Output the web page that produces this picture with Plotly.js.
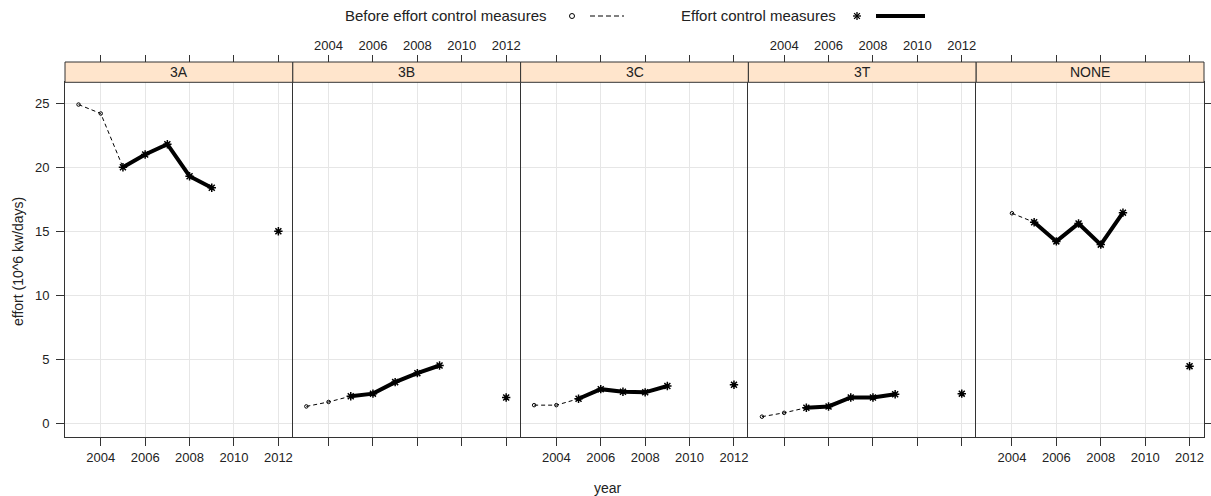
<!DOCTYPE html>
<html>
<head>
<meta charset="utf-8">
<script src="https://cdn.plot.ly/plotly-3.0.1.min.js"></script>
<style>html,body{margin:0;padding:0;background:#fff;}#chart{width:1211px;height:496px;}</style>
</head>
<body>
<div id="chart"></div>
<script>
// ---- data ----
const panels = ['3A', '3B', '3C', '3T', 'NONE'];
const beforeYears = [2003, 2004];
const effortYears = [2005, 2006, 2007, 2008, 2009, 2010, 2011, 2012];
const before_3A = [24.9, 24.2];
const before_3B = [1.3, 1.65];
const before_3C = [1.4, 1.4];
const before_3T = [0.5, 0.8];
const before_NONE = [null, 16.4];
const effort_3A = [20.0, 21.0, 21.8, 19.3, 18.4, null, null, 15.0];
const effort_3B = [2.1, 2.3, 3.2, 3.9, 4.5, null, null, 2.0];
const effort_3C = [1.9, 2.65, 2.45, 2.4, 2.9, null, null, 3.0];
const effort_3T = [1.2, 1.3, 2.0, 2.0, 2.25, null, null, 2.3];
const effort_NONE = [15.7, 14.2, 15.6, 13.95, 16.45, null, null, 4.45];
const xTicks = [2004, 2006, 2008, 2010, 2012];
const yTicks = [0, 5, 10, 15, 20, 25];
const legendLabels = ['Before effort control measures', 'Effort control measures'];

const beforeSeries = [before_3A, before_3B, before_3C, before_3T, before_NONE];
const effortSeries = [effort_3A, effort_3B, effort_3C, effort_3T, effort_NONE];

// ---- layout geometry ----
const W = 1211, H = 496;
const M = {l: 65, r: 7, t: 62, b: 59};
const PW = W - M.l - M.r, PH = H - M.t - M.b;
const px = x => (x - M.l) / PW;
const py = y => (H - M.b - y) / PH;
const yTop = py(82.3);
const xRange = [2002.39, 2012.65];
const yRange = [-1.09, 26.64];
const axisColor = '#333';
const gridColor = '#e6e6e6';
const font = 'Liberation Sans, Arial, sans-serif';

const traces = [];
const layout = {
  width: W, height: H, margin: M,
  paper_bgcolor: '#fff', plot_bgcolor: '#fff',
  showlegend: false,
  font: {family: font, size: 13, color: '#222'},
  shapes: [], annotations: []
};

panels.forEach((p, i) => {
  const n = i + 1;
  const xs = n === 1 ? '' : String(n);
  const xa = 'x' + xs, ya = 'y' + xs;
  const dom = [i / 5, (i + 1) / 5];
  layout['xaxis' + xs] = {
    domain: dom, range: xRange, anchor: ya,
    tickvals: xTicks, ticktext: xTicks.map(String),
    ticks: 'outside', ticklen: 8, tickcolor: axisColor, tickwidth: 1,
    showticklabels: i % 2 === 0, tickfont: {size: 13, color: '#222'},
    showline: true, linecolor: axisColor, linewidth: 1, mirror: true,
    showgrid: true, gridcolor: gridColor, zeroline: false, fixedrange: true
  };
  layout['yaxis' + xs] = {
    domain: [0, yTop], range: yRange, anchor: xa,
    tickvals: yTicks,
    ticks: (i === 0 || i === 4) ? 'outside' : '', ticklen: 8, tickcolor: axisColor,
    side: i === 4 ? 'right' : 'left',
    showticklabels: i === 0, tickfont: {size: 13, color: '#222'}, ticklabelstandoff: 4,
    showline: true, linecolor: axisColor, linewidth: 1, mirror: i === 4,
    showgrid: true, gridcolor: gridColor, zeroline: false, fixedrange: true
  };
  // top axis
  const tn = String(n + 5);
  layout['xaxis' + tn] = {
    overlaying: xa, side: 'top', anchor: 'free', position: 1,
    range: xRange, tickvals: xTicks, ticktext: xTicks.map(String),
    ticks: 'outside', ticklen: 7, tickcolor: axisColor,
    showticklabels: i % 2 === 1, tickfont: {size: 13, color: '#222'},
    showline: false, showgrid: false, zeroline: false, fixedrange: true
  };
  traces.push({type: 'scatter', x: [], y: [], xaxis: 'x' + tn, yaxis: ya, hoverinfo: 'skip'});

  // strip
  layout.shapes.push({
    type: 'rect', xref: xa + ' domain', x0: 0, x1: 1, yref: 'paper', y0: yTop, y1: 1,
    fillcolor: '#ffe5cc', line: {color: axisColor, width: 1}, layer: 'above'
  });
  layout.annotations.push({
    xref: xa + ' domain', x: 0.5, yref: 'paper', y: (yTop + 1) / 2,
    text: p, showarrow: false, font: {size: 14, color: '#222'},
    xanchor: 'center', yanchor: 'middle'
  });

  const bv = beforeSeries[i], ev = effortSeries[i];
  // dashed connection (before years + first effort year)
  traces.push({
    type: 'scatter', mode: 'lines', xaxis: xa, yaxis: ya,
    x: beforeYears.concat([effortYears[0]]), y: bv.concat([ev[0]]),
    line: {color: '#000', width: 1, dash: '4px,3px'}, connectgaps: false, hoverinfo: 'skip'
  });
  traces.push({
    type: 'scatter', mode: 'markers', xaxis: xa, yaxis: ya,
    x: beforeYears, y: bv,
    marker: {symbol: 'circle-open', size: 3.5, color: '#000', line: {width: 1, color: '#000'}},
    hoverinfo: 'skip'
  });
  traces.push({
    type: 'scatter', mode: 'lines+markers', xaxis: xa, yaxis: ya,
    x: effortYears, y: ev, connectgaps: false,
    line: {color: '#000', width: 4},
    marker: {symbol: 'asterisk-open', size: 7, color: '#000', line: {width: 1.5, color: '#000'}},
    hoverinfo: 'skip'
  });
});

// ---- legend (drawn as shapes/annotations in the top margin) ----
const legY = py(16);
const sx = d => d / PW, sy = d => d / PH;
// small open circle
layout.shapes.push({
  type: 'circle', xref: 'paper', yref: 'paper',
  x0: px(572) - sx(2.5), x1: px(572) + sx(2.5), y0: legY - sy(2.5), y1: legY + sy(2.5),
  line: {color: '#000', width: 1}
});
// dashed line
layout.shapes.push({
  type: 'line', xref: 'paper', yref: 'paper', x0: px(590), x1: px(624), y0: legY, y1: legY,
  line: {color: '#000', width: 1, dash: '5px,3px'}
});
// asterisk (+ and x)
const ac = 857, ar = 4;
[[ar, 0], [0, ar], [ar * 0.72, ar * 0.72], [ar * 0.72, -ar * 0.72]].forEach(([dx, dy]) => {
  layout.shapes.push({
    type: 'line', xref: 'paper', yref: 'paper',
    x0: px(ac - dx), x1: px(ac + dx), y0: legY - sy(dy), y1: legY + sy(dy),
    line: {color: '#000', width: 1.3}
  });
});
// thick line
layout.shapes.push({
  type: 'line', xref: 'paper', yref: 'paper', x0: px(876), x1: px(925), y0: legY, y1: legY,
  line: {color: '#000', width: 4}
});
layout.annotations.push({
  xref: 'paper', yref: 'paper', x: px(549), y: legY, xanchor: 'right', yanchor: 'middle',
  text: legendLabels[0], showarrow: false, font: {size: 15, color: '#222'}
});
layout.annotations.push({
  xref: 'paper', yref: 'paper', x: px(838), y: legY, xanchor: 'right', yanchor: 'middle',
  text: legendLabels[1], showarrow: false, font: {size: 15, color: '#222'}
});
// axis titles
layout.annotations.push({
  xref: 'paper', yref: 'paper', x: px(608), y: py(488), xanchor: 'center', yanchor: 'middle',
  text: 'year', showarrow: false, font: {size: 14, color: '#222'}
});
layout.annotations.push({
  xref: 'paper', yref: 'paper', x: px(18), y: py(262), xanchor: 'center', yanchor: 'middle',
  text: 'effort (10^6 kw/days)', textangle: -90, showarrow: false, font: {size: 14, color: '#222'}
});

Plotly.newPlot('chart', traces, layout, {staticPlot: true, displayModeBar: false});
</script>
</body>
</html>
